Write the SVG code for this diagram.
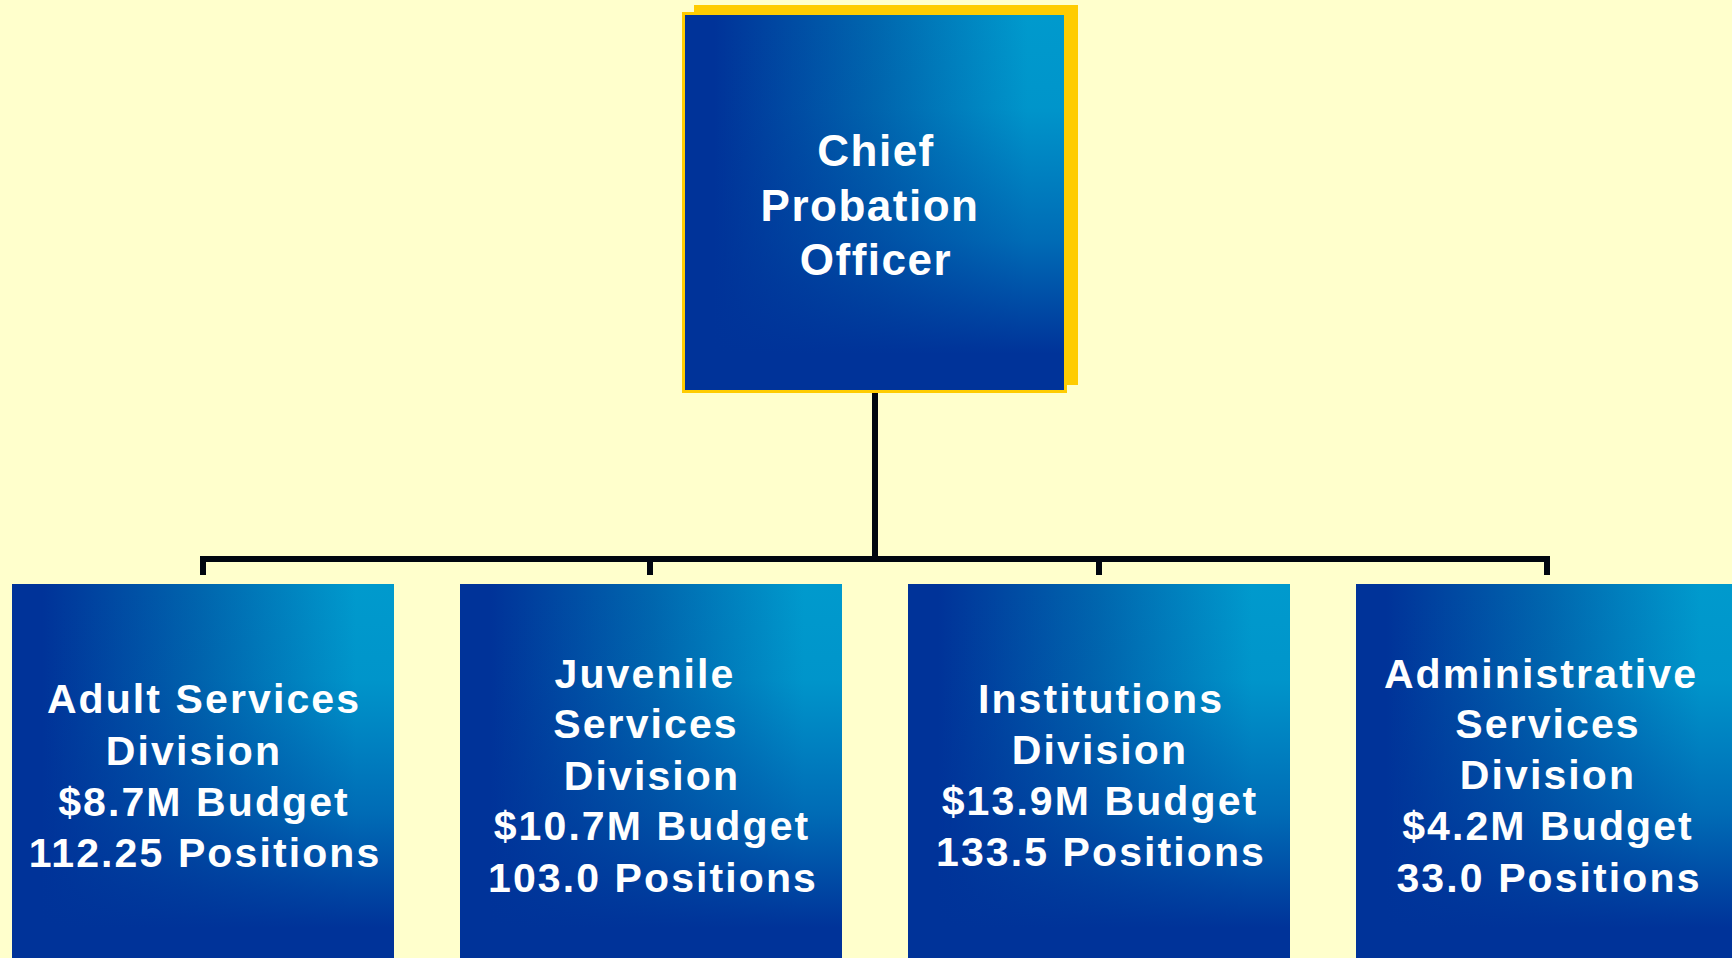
<svg xmlns="http://www.w3.org/2000/svg" width="1732" height="958" viewBox="0 0 1732 958">
  <defs>
    <linearGradient id="gradH" x1="0" y1="0" x2="1" y2="0">
      <stop offset="0" stop-color="#003399"/>
      <stop offset="0.08" stop-color="#003399"/>
      <stop offset="0.5" stop-color="#0066AE"/>
      <stop offset="0.9" stop-color="#009ACD"/>
      <stop offset="1" stop-color="#009ACD"/>
    </linearGradient>
    <linearGradient id="gradV" x1="0" y1="0" x2="0" y2="1">
      <stop offset="0" stop-color="#003399" stop-opacity="0"/>
      <stop offset="0.25" stop-color="#003399" stop-opacity="0.05"/>
      <stop offset="0.6" stop-color="#003399" stop-opacity="0.45"/>
      <stop offset="0.9" stop-color="#003399" stop-opacity="1"/>
      <stop offset="1" stop-color="#003399" stop-opacity="1"/>
    </linearGradient>
  </defs>
  <style>
    .bg { fill: #FFFFCC; }
    .fh { fill: url(#gradH); }
    .fv { fill: url(#gradV); }
    .shadow { fill: #FFCC00; }
    .frame { fill: none; stroke: #FFCC00; stroke-width: 3; }
    .conn { stroke: #00060F; stroke-width: 6; fill: none; stroke-linecap: butt; }
    .t { font-family: "Liberation Sans", Arial, sans-serif; font-weight: bold; fill: #FFFFFF; text-anchor: middle; }
    .big { font-size: 44px; letter-spacing: 1.5px; }
    .sm { font-size: 41px; letter-spacing: 2.1px; }
  </style>
  <rect class="bg" x="0" y="0" width="1732" height="958"/>

  <g id="connectors">
    <line class="conn" x1="875" y1="393" x2="875" y2="559"/>
    <line class="conn" x1="200" y1="559" x2="1550" y2="559"/>
    <line class="conn" x1="203" y1="556" x2="203" y2="575"/>
    <line class="conn" x1="650" y1="556" x2="650" y2="575"/>
    <line class="conn" x1="1099" y1="556" x2="1099" y2="575"/>
    <line class="conn" x1="1547" y1="556" x2="1547" y2="575"/>
  </g>

  <g id="chief">
    <rect class="shadow" x="694" y="5" width="384" height="380"/>
    <rect class="fh" x="683.5" y="13.5" width="382" height="378"/>
    <rect class="fv" x="683.5" y="13.5" width="382" height="378"/>
    <rect class="frame" x="683.5" y="13.5" width="382" height="378"/>
    <text class="t big" x="876" y="166">Chief</text>
    <text class="t big" x="870" y="221">Probation</text>
    <text class="t big" x="876" y="275">Officer</text>
  </g>

  <g id="adult">
    <rect class="fh" x="12" y="584" width="382" height="382"/>
    <rect class="fv" x="12" y="584" width="382" height="382"/>
    <text class="t sm" x="204" y="713">Adult Services</text>
    <text class="t sm" x="194" y="765">Division</text>
    <text class="t sm" x="204" y="816">$8.7M Budget</text>
    <text class="t sm" x="205" y="867">112.25 Positions</text>
  </g>

  <g id="juvenile">
    <rect class="fh" x="460" y="584" width="382" height="382"/>
    <rect class="fv" x="460" y="584" width="382" height="382"/>
    <text class="t sm" x="645" y="688">Juvenile</text>
    <text class="t sm" x="646" y="738">Services</text>
    <text class="t sm" x="652" y="790">Division</text>
    <text class="t sm" x="652" y="840">$10.7M Budget</text>
    <text class="t sm" x="653" y="892">103.0 Positions</text>
  </g>

  <g id="institutions">
    <rect class="fh" x="908" y="584" width="382" height="382"/>
    <rect class="fv" x="908" y="584" width="382" height="382"/>
    <text class="t sm" x="1101" y="713">Institutions</text>
    <text class="t sm" x="1100" y="764">Division</text>
    <text class="t sm" x="1100" y="815">$13.9M Budget</text>
    <text class="t sm" x="1101" y="866">133.5 Positions</text>
  </g>

  <g id="administrative">
    <rect class="fh" x="1356" y="584" width="382" height="382"/>
    <rect class="fv" x="1356" y="584" width="382" height="382"/>
    <text class="t sm" x="1541" y="688">Administrative</text>
    <text class="t sm" x="1548" y="738">Services</text>
    <text class="t sm" x="1548" y="789">Division</text>
    <text class="t sm" x="1548" y="840">$4.2M Budget</text>
    <text class="t sm" x="1549" y="892">33.0 Positions</text>
  </g>
</svg>
